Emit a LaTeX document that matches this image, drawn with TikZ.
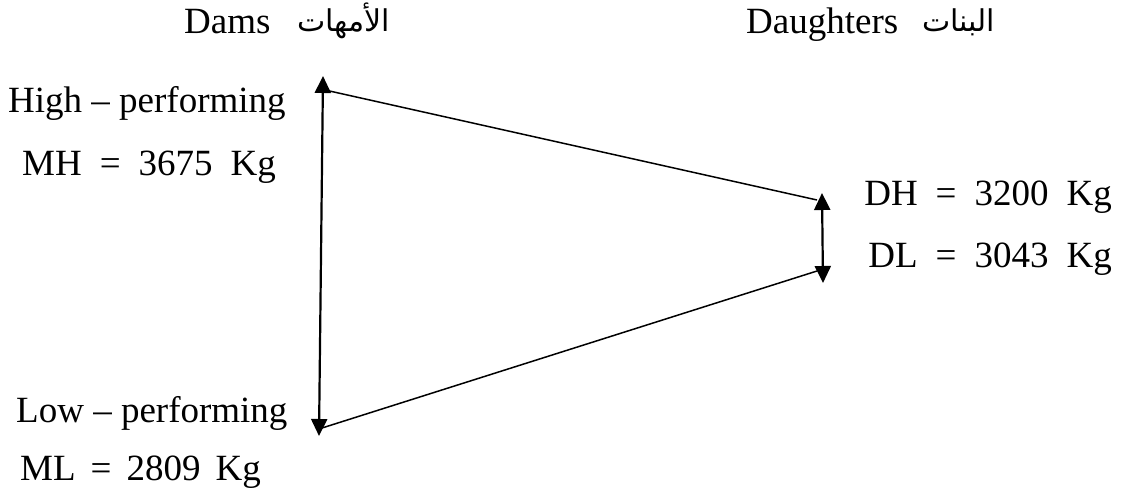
\documentclass[tikz,border=0pt]{standalone}
\usepackage{fontspec}
\setmainfont{Liberation Serif}
\newfontfamily\arabicfont[Script=Arabic]{DejaVu Sans}
\TeXXeTstate=1
\usetikzlibrary{arrows.meta}
\newcommand{\gapA}{\hspace{18pt}}
\newcommand{\gapB}{\hspace{15pt}}
\begin{document}
\begin{tikzpicture}[x=1pt,y=-1pt,
  lbl/.style={inner sep=0pt,font=\fontsize{37}{42}\selectfont},
  ar/.style={inner sep=0pt,font=\arabicfont\fontsize{30}{34}\selectfont},
  dbl/.style={line width=2.2pt,{Triangle[length=17pt,width=16pt]}-{Triangle[length=17pt,width=16pt]}},
  side/.style={line width=1.5pt}]
\useasboundingbox (0,0) rectangle (1126,501);
% headers
\node[lbl,anchor=base west] (dams) at (184,33) {Dams};
\node[ar,anchor=base west] (damsar) at (297,31) {\beginR الأمهات\endR};
\node[lbl,anchor=base west] (dau) at (746,33) {Daughters};
\node[ar,anchor=base west] (dauar) at (922,31) {\beginR البنات\endR};
% labels
\node[lbl,anchor=base west] (high) at (8,112) {High -- performing};
\node[lbl,anchor=base west] (mh) at (22,175) {MH\gapA=\gapA3675\gapA Kg};
\node[lbl,anchor=base east] (dh) at (1112,205) {DH\gapA=\gapA3200\gapA Kg};
\node[lbl,anchor=base east] (dl) at (1112,267) {DL\gapA=\gapA3043\gapA Kg};
\node[lbl,anchor=base west] (low) at (16,422) {Low -- performing};
\node[lbl,anchor=base west] (ml) at (20,480) {ML\gapB=\gapB2809\gapB Kg};
% coordinates
\coordinate (mtop) at (323,76);
\coordinate (mbot) at (319,436);
\coordinate (dtop) at (822,193);
\coordinate (dbot) at (823,283);
\coordinate (ltop) at (325,90);
\coordinate (lbot) at (322,428);
\coordinate (rtop) at (817,200);
\coordinate (rbot) at (817,271);
% connectors
\draw[dbl] (mbot) -- (mtop);
\draw[dbl] (dbot) -- (dtop);
\draw[side] (ltop) -- (rtop);
\draw[side] (lbot) -- (rbot);
\end{tikzpicture}
\end{document}
